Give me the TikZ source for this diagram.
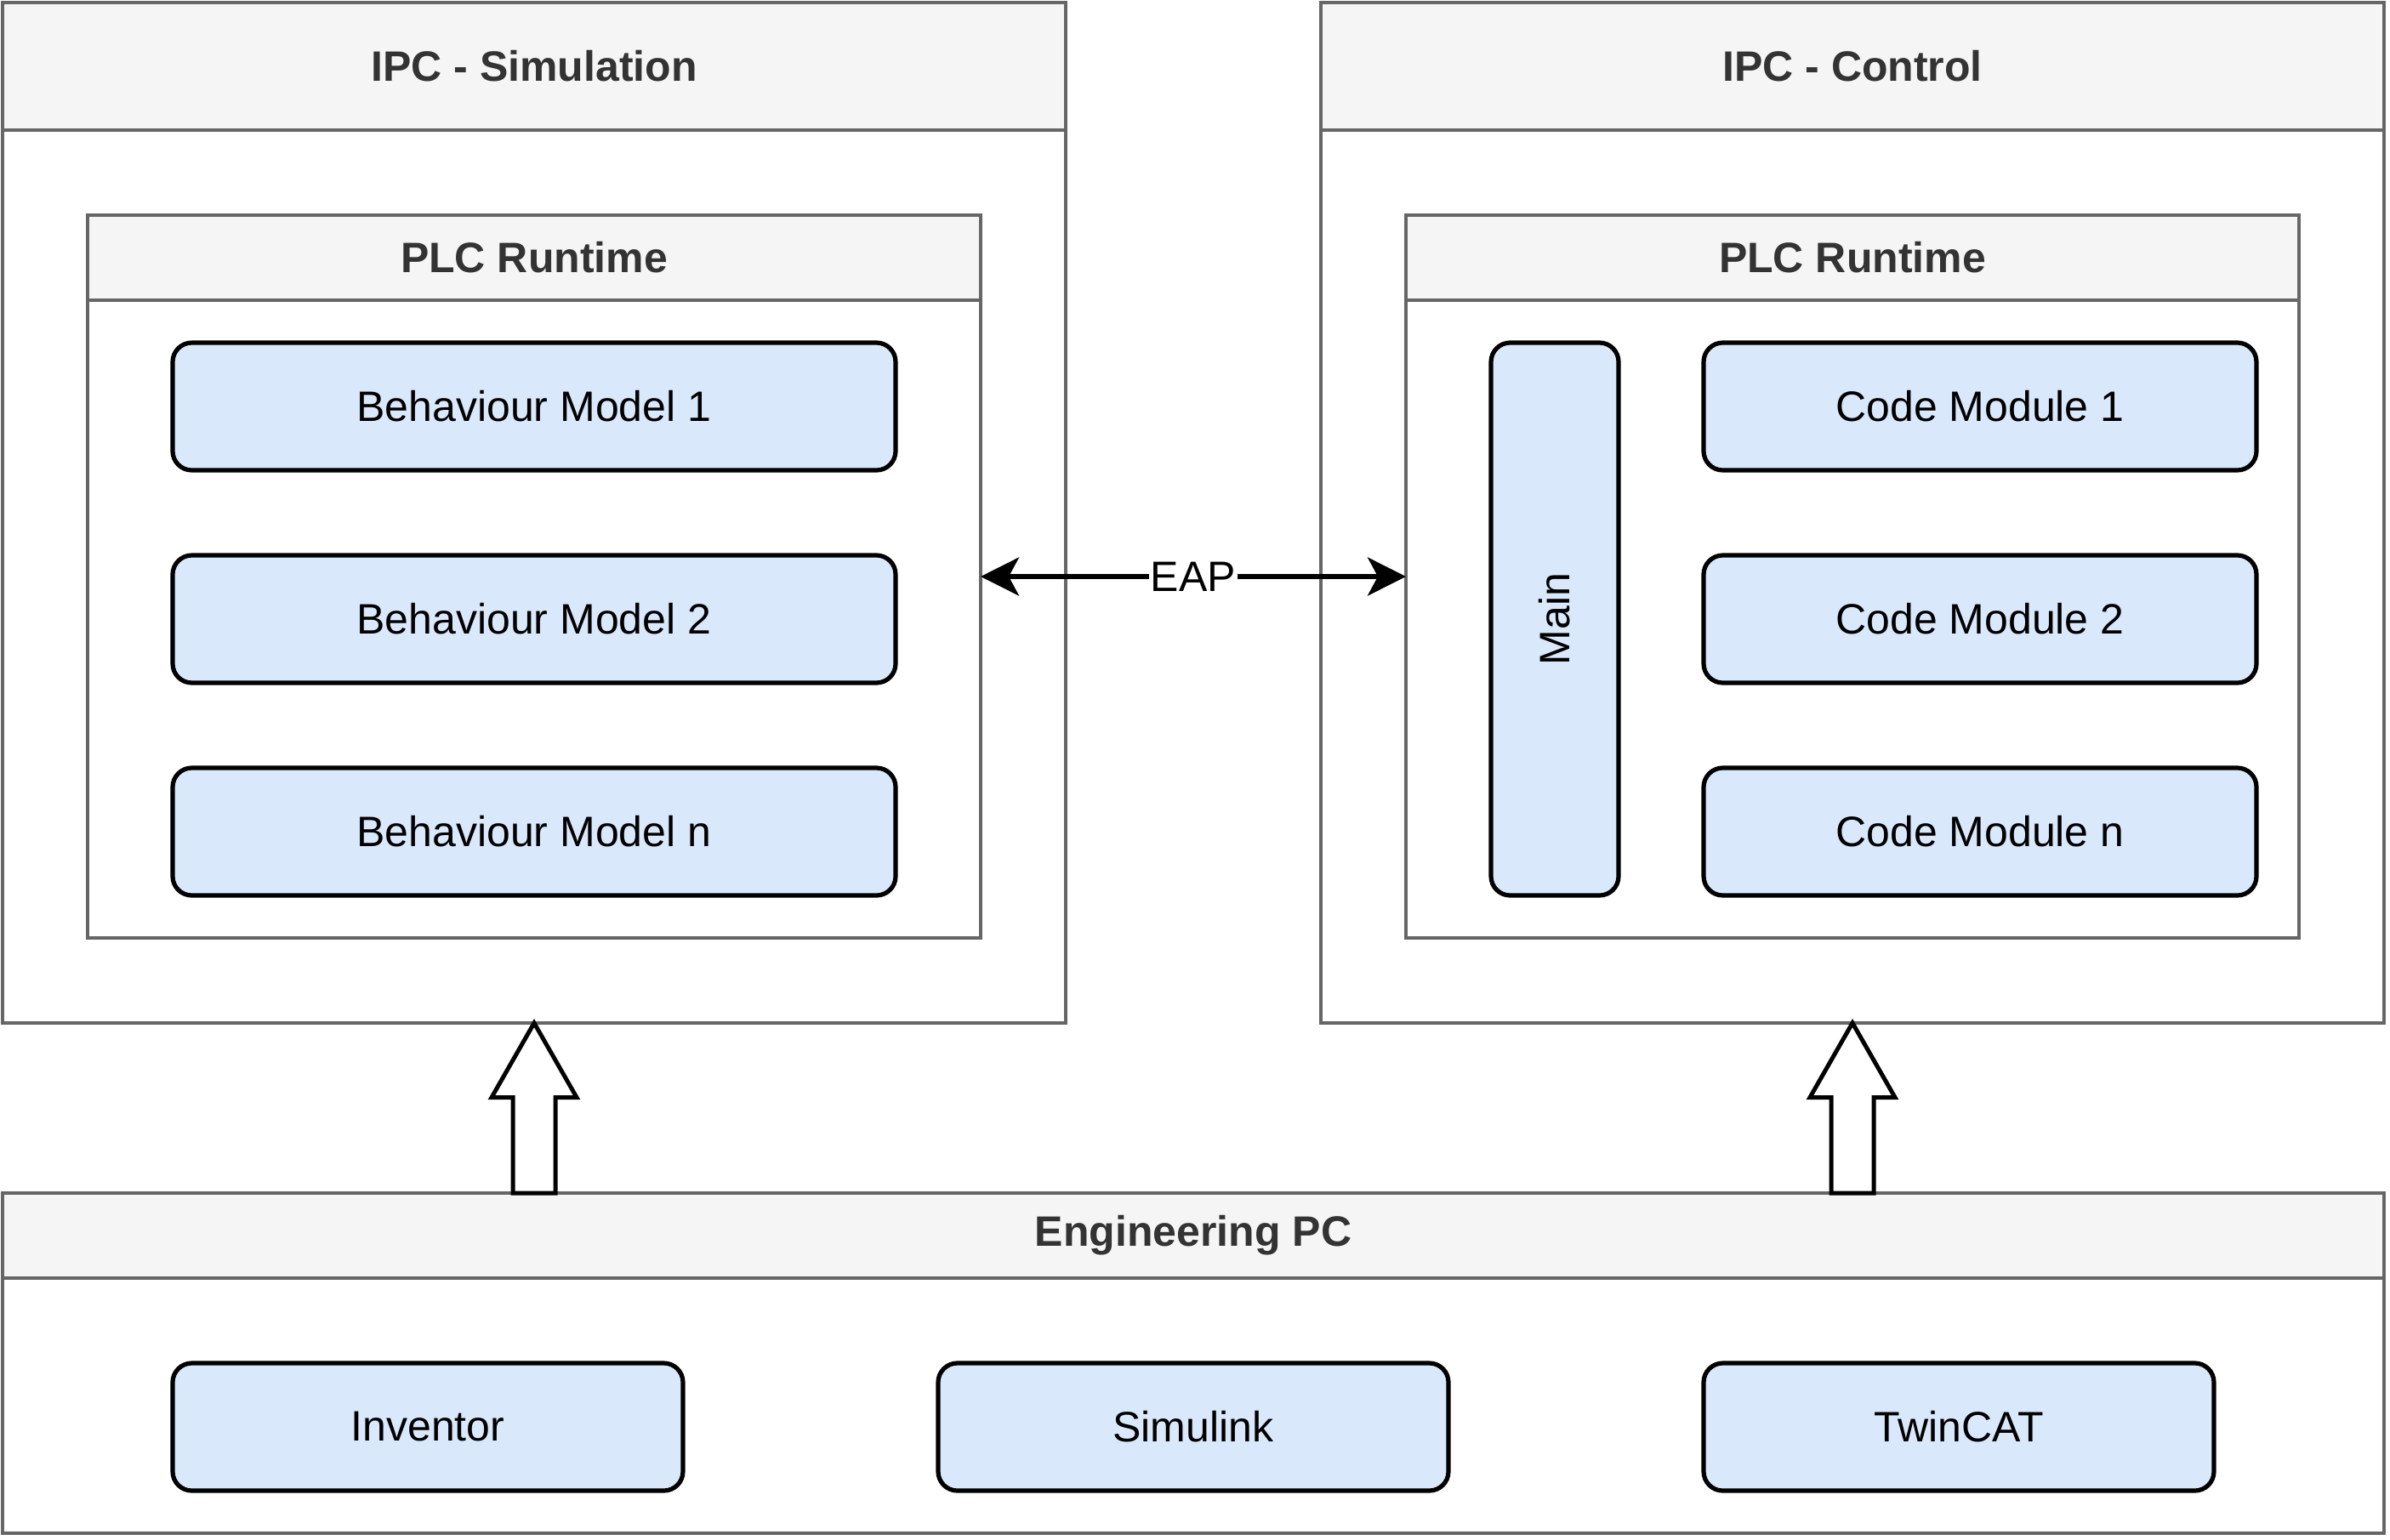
\documentclass[tikz,border=0pt]{standalone}
\usepackage{fontspec}
\setmainfont{Liberation Sans}
\usetikzlibrary{arrows.meta,calc}
\definecolor{hdrfill}{HTML}{F5F5F5}
\definecolor{hdrline}{HTML}{666666}
\definecolor{hdrtext}{HTML}{333333}
\definecolor{bluefill}{HTML}{DAE8FC}
\tikzset{
  sz/.style 2 args={minimum width=#1*1.25pt, minimum height=#2*1.25pt},
  container/.style={draw=hdrline, line width=1.75pt, fill=white, inner sep=0pt, outer sep=0pt},
  header/.style={draw=hdrline, line width=1.75pt, fill=hdrfill, inner sep=0pt, outer sep=0pt,
    text=hdrtext, font=\fontsize{25pt}{30pt}\selectfont\bfseries},
  bluebox/.style={draw=black, line width=2.6pt, fill=bluefill, rounded corners=11.25pt,
    inner sep=0pt, outer sep=0pt, font=\fontsize{25pt}{30pt}\selectfont},
  blockarrow/.style={draw=black, line width=2.5pt, fill=white, line join=miter},
  eaparrow/.style={draw=black, line width=2.6pt,
    {Stealth[length=22.5pt,width=22.5pt,inset=6pt]}-{Stealth[length=22.5pt,width=22.5pt,inset=6pt]}},
  eaplabel/.style={fill=white, inner sep=1pt, font=\fontsize{25pt}{30pt}\selectfont}
}
\begin{document}
\begin{tikzpicture}[x=1.25pt,y=-1.25pt]
\useasboundingbox (-1.2,-1.2) rectangle (1122.8,722.8);
% IPC - Simulation
\node[container, sz={500}{480}] (simbox) at (250,240) {};
\node[header, sz={500}{60}] (simhdr) at (250,30) {IPC - Simulation};
\node[container, sz={420}{340}] (plcL) at (250,270) {};
\node[header, sz={420}{40}] (plcLhdr) at (250,120) {PLC Runtime};
\node[bluebox, sz={340}{60}] (bm1) at (250,190) {Behaviour Model 1};
\node[bluebox, sz={340}{60}] (bm2) at (250,290) {Behaviour Model 2};
\node[bluebox, sz={340}{60}] (bmn) at (250,390) {Behaviour Model n};
% IPC - Control
\node[container, sz={500}{480}] (ctlbox) at (870,240) {};
\node[header, sz={500}{60}] (ctlhdr) at (870,30) {IPC - Control};
\node[container, sz={420}{340}] (plcR) at (870,270) {};
\node[header, sz={420}{40}] (plcRhdr) at (870,120) {PLC Runtime};
\node[bluebox, sz={60}{260}] (main) at (730,290) {};
\node[font=\fontsize{25pt}{30pt}\selectfont, rotate=90, inner sep=0pt] (maintext) at (main.center) {Main};
\node[bluebox, sz={260}{60}] (cm1) at (930,190) {Code Module 1};
\node[bluebox, sz={260}{60}] (cm2) at (930,290) {Code Module 2};
\node[bluebox, sz={260}{60}] (cmn) at (930,390) {Code Module n};
% Engineering PC
\node[container, sz={1120}{160}] (eng) at (560,640) {};
\node[header, sz={1120}{40}] (enghdr) at (560,580) {Engineering PC};
\node[bluebox, sz={240}{60}] (inv) at (200,670) {Inventor};
\node[bluebox, sz={240}{60}] (simu) at (560,670) {Simulink};
\node[bluebox, sz={240}{60}] (twin) at (920,670) {TwinCAT};
% EAP connection
\draw[eaparrow] (plcL.east) -- node[eaplabel] (eap) {EAP} (plcR.west);
% block arrows
\coordinate (baseL) at (simbox.south |- enghdr.north);
\coordinate (baseR) at (ctlbox.south |- enghdr.north);
\draw[blockarrow] ($(baseL)+(-10,0)$) -- ($(baseL)+(-10,-45)$) -- ($(baseL)+(-20,-45)$)
  -- (simbox.south) -- ($(baseL)+(20,-45)$) -- ($(baseL)+(10,-45)$) -- ($(baseL)+(10,0)$) -- cycle;
\draw[blockarrow] ($(baseR)+(-10,0)$) -- ($(baseR)+(-10,-45)$) -- ($(baseR)+(-20,-45)$)
  -- (ctlbox.south) -- ($(baseR)+(20,-45)$) -- ($(baseR)+(10,-45)$) -- ($(baseR)+(10,0)$) -- cycle;
\end{tikzpicture}
\end{document}
